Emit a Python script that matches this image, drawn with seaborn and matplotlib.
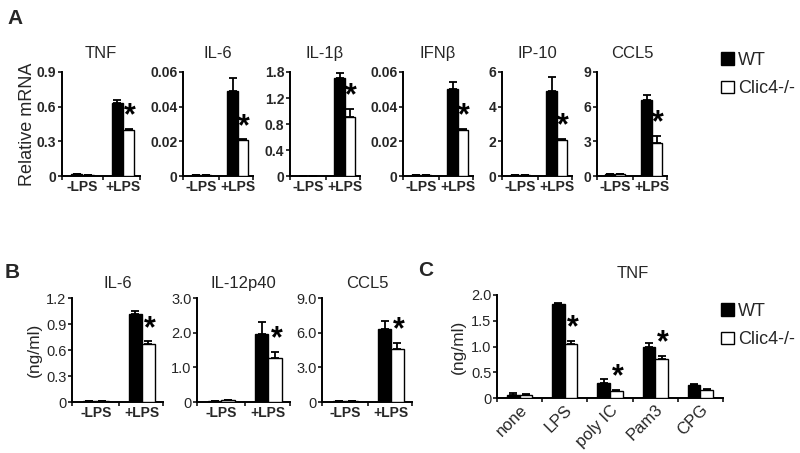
import numpy as np
import pandas as pd
import matplotlib
matplotlib.use('Agg')
import matplotlib.pyplot as plt
import seaborn as sns
from matplotlib import font_manager
from matplotlib.ticker import FixedLocator

sns.set_theme(style='ticks')
plt.rcParams['font.family'] = ['Liberation Sans', 'DejaVu Sans']

installed = {f.name for f in font_manager.fontManager.ttflist}
narrow = 'Liberation Sans Narrow' if 'Liberation Sans Narrow' in installed else 'Liberation Sans'

# %%
# values
genotypes = ['WT', 'Clic4-/-']
lps = ['-LPS', '+LPS']

# A: relative mRNA
a_genes = ['TNF', 'IL-6', 'IL-1β', 'IFNβ', 'IP-10', 'CCL5']
a_wt = [[0.015, 0.633], [0.0006, 0.049], [0.004, 1.50], [0.0008, 0.050], [0.06, 4.88], [0.15, 6.56]]
a_wt_err = [[0, 0.022], [0, 0.0076], [0, 0.085], [0, 0.0043], [0, 0.81], [0, 0.45]]
a_ko = [[0.012, 0.397], [0.0008, 0.0207], [0.004, 0.91], [0.0006, 0.0265], [0.07, 2.09], [0.2, 2.87]]
a_ko_err = [[0, 0.012], [0, 0.0004], [0, 0.12], [0, 0.0005], [0, 0.04], [0, 0.61]]
a_ymax = [0.9, 0.06, 1.6, 0.06, 6, 9]
a_ticks = [[0, 0.3, 0.6, 0.9], [0, 0.02, 0.04, 0.06], [0, 0.4, 0.8, 1.2, 1.6],
           [0, 0.02, 0.04, 0.06], [0, 2, 4, 6], [0, 3, 6, 9]]
a_ticklabels = [['0', '0.3', '0.6', '0.9'], ['0', '0.02', '0.04', '0.06'],
                ['0', '0.4', '0.8', '1.2', '1.8'], ['0', '0.02', '0.04', '0.06'],
                ['0', '2', '4', '6'], ['0', '3', '6', '9']]

# B: secreted cytokines (ng/ml)
b_genes = ['IL-6', 'IL-12p40', 'CCL5']
b_wt = [[0.012, 1.02], [0.03, 1.95], [0.05, 6.33]]
b_wt_err = [[0, 0.03], [0, 0.36], [0, 0.64]]
b_ko = [[0.01, 0.673], [0.045, 1.27], [0.05, 4.59]]
b_ko_err = [[0, 0.027], [0, 0.17], [0, 0.52]]
b_ymax = [1.2, 3.0, 9.0]
b_ticks = [[0, 0.3, 0.6, 0.9, 1.2], [0, 1.0, 2.0, 3.0], [0, 3.0, 6.0, 9.0]]
b_ticklabels = [['0', '0.3', '0.6', '0.9', '1.2'], ['0', '1.0', '2.0', '3.0'],
                ['0', '3.0', '6.0', '9.0']]

# C: TNF after TLR ligands (ng/ml)
c_stim = ['none', 'LPS', 'poly IC', 'Pam3', 'CPG']
c_wt = [0.065, 1.82, 0.29, 0.987, 0.245]
c_wt_err = [0.035, 0.03, 0.08, 0.09, 0.02]
c_ko = [0.05, 1.045, 0.13, 0.755, 0.148]
c_ko_err = [0.02, 0.065, 0.03, 0.065, 0.032]
c_sig = [False, True, True, True, False]
c_ticks = [0, 0.5, 1.0, 1.5, 2.0]
c_ticklabels = ['0', '0.5', '1.0', '1.5', '2.0']

palette = {'WT': 'black', 'Clic4-/-': 'white'}

# %%
W, H = 800, 453
fig = plt.figure(figsize=(W / 100, H / 100), dpi=100)


def box(x0, x1, ytop, ybot):
    return [x0 / W, 1 - ybot / H, (x1 - x0) / W, (ybot - ytop) / H]


def bar_panel(ax, cats, wt, wt_err, ko, ko_err, sig, ymax, ticks, ticklabels, xlim):
    df = pd.DataFrame({
        'cond': cats * 2,
        'geno': ['WT'] * len(cats) + ['Clic4-/-'] * len(cats),
        'val': list(wt) + list(ko),
        'err': list(wt_err) + list(ko_err),
    })
    sns.barplot(data=df, x='cond', y='val', hue='geno', hue_order=genotypes,
                palette=palette, width=0.56, edgecolor='black', linewidth=1.0,
                errorbar=None, legend=False, ax=ax, zorder=3)
    bars = ax.patches[:2 * len(cats)]
    xs = [p.get_x() + p.get_width() / 2 for p in bars]
    tops = [p.get_height() for p in bars]
    errs = list(df['err'])
    ax.errorbar(xs, tops, yerr=[np.zeros(len(errs)), errs], fmt='none',
                ecolor='black', elinewidth=1.3, capsize=3, capthick=1.3, zorder=2)
    n = len(cats)
    for i in range(n):
        if sig[i]:
            j = n + i
            ax.text(xs[j] + 0.03, tops[j] + errs[j] + 0.12 * ymax, '*', ha='center', va='center',
                    fontsize=22, fontweight='bold', color='black')
    ax.set_xlim(*xlim)
    ax.set_ylim(0, ymax)
    ax.set_yticks(ticks)
    ax.set_yticklabels(ticklabels)
    ax.xaxis.set_minor_locator(FixedLocator([xlim[0]] + [k + 0.5 for k in range(n - 1)] + [xlim[1]]))
    ax.tick_params(axis='x', which='major', length=0, pad=3)
    ax.tick_params(axis='x', which='minor', length=3, width=1.3, direction='out')
    ax.tick_params(axis='y', length=3, width=1.3, direction='out', pad=1)
    ax.set_xlabel('')
    ax.set_ylabel('')
    sns.despine(ax=ax)
    for s in ['left', 'bottom']:
        ax.spines[s].set_linewidth(1.4)
        ax.spines[s].set_color('black')
    ax.set_facecolor('none')


def add_legend(ytop):
    handles = [plt.Rectangle((0, 0), 1, 1, facecolor=palette[g], edgecolor='black', linewidth=1.0)
               for g in genotypes]
    fig.legend(handles, genotypes, loc='upper left', bbox_to_anchor=(721 / W, 1 - ytop / H),
               frameon=False, fontsize=13, handlelength=0.7, handleheight=0.7,
               handletextpad=0.25, labelspacing=0.62, borderpad=0, borderaxespad=0)


# %%
# Panel A
a_x = [(62, 140), (183, 253), (290, 360), (403, 473), (502, 572), (597, 667)]
for k, gene in enumerate(a_genes):
    ax = fig.add_axes(box(a_x[k][0], a_x[k][1], 72, 176))
    bar_panel(ax, lps, a_wt[k], a_wt_err[k], a_ko[k], a_ko_err[k], [False, True],
              a_ymax[k], a_ticks[k], a_ticklabels[k], (-0.5, 1.42))
    ax.set_title(gene, fontsize=12, pad=10)
    for t in ax.get_yticklabels():
        t.set_fontfamily(narrow)
        t.set_fontweight('bold')
        t.set_fontsize(10.5 if narrow != 'Liberation Sans' else 10)
    for t in ax.get_xticklabels():
        t.set_fontweight('bold')
        t.set_fontsize(10)
    if k == 0:
        ax.set_ylabel('Relative mRNA', fontsize=13, labelpad=1)
add_legend(52)

# Panel B
b_x = [(72, 163), (197, 290), (322, 412)]
for k, gene in enumerate(b_genes):
    ax = fig.add_axes(box(b_x[k][0], b_x[k][1], 298, 402))
    bar_panel(ax, lps, b_wt[k], b_wt_err[k], b_ko[k], b_ko_err[k], [False, True],
              b_ymax[k], b_ticks[k], b_ticklabels[k], (-0.52, 1.46))
    ax.set_title(gene, fontsize=12, pad=7)
    for t in ax.get_yticklabels():
        t.set_fontsize(10.5)
    for t in ax.get_xticklabels():
        t.set_fontweight('bold')
        t.set_fontsize(10)
    if k == 0:
        ax.set_ylabel('(ng/ml)', fontsize=12.5, labelpad=3)

# Panel C
ax = fig.add_axes(box(497, 723, 295, 398))
bar_panel(ax, c_stim, c_wt, c_wt_err, c_ko, c_ko_err, c_sig,
          2.0, c_ticks, c_ticklabels, (-0.5, 4.5))
ax.set_title('TNF', fontsize=12, pad=12, x=0.6)
for t in ax.get_yticklabels():
    t.set_fontsize(10.5)
for t in ax.get_xticklabels():
    t.set_fontsize(12)
    t.set_rotation(45)
    t.set_ha('right')
    t.set_rotation_mode('anchor')
ax.set_ylabel('(ng/ml)', fontsize=12.5, labelpad=4)
add_legend(303)

# panel letters
fig.text(7 / W, 1 - 9 / H, 'A', fontsize=15, fontweight='bold', va='top')
fig.text(5 / W, 1 - 263 / H, 'B', fontsize=15, fontweight='bold', va='top')
fig.text(418 / W, 1 - 261 / H, 'C', fontsize=15, fontweight='bold', va='top')

fig.savefig('out.png', dpi=100, facecolor='white')
